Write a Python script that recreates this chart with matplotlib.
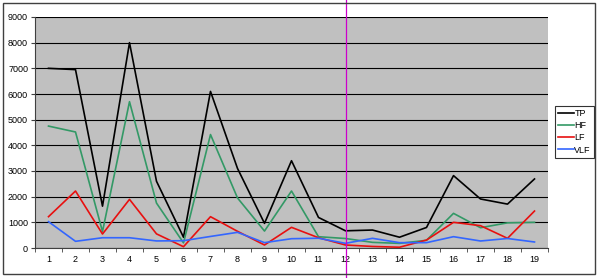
import matplotlib
matplotlib.use("Agg")
import matplotlib.pyplot as plt
from matplotlib.patches import Rectangle

categories = list(range(1, 20))
TP = [7000, 6950, 1630, 8000, 2600, 420, 6100, 3100, 960, 3400, 1190, 670, 700, 420, 800, 2820, 1910, 1710, 2690]
HF = [4750, 4520, 640, 5700, 1750, 200, 4420, 1950, 660, 2220, 440, 370, 220, 180, 300, 1350, 790, 980, 1000]
LF = [1220, 2220, 545, 1895, 550, 50, 1220, 650, 117, 805, 400, 117, 60, 30, 310, 1000, 870, 377, 1440]
VLF = [1025, 260, 400, 400, 275, 285, 450, 610, 208, 362, 380, 182, 377, 208, 208, 441, 273, 370, 234]
series = [("TP", TP, "#000000"), ("HF", HF, "#339966"), ("LF", LF, "#E81010"), ("VLF", VLF, "#3366FF")]
yticks = list(range(0, 9001, 1000))
marker_cat = 12

plt.rcParams['font.family'] = ['Liberation Sans', 'DejaVu Sans']
fig = plt.figure(figsize=(6.0, 2.78), dpi=100)
fig.patch.set_facecolor("white")
fig.patches.append(Rectangle((3/600, 4/278), 592/600, 271/278, transform=fig.transFigure,
                             fill=False, edgecolor="#404040", linewidth=1.0))

ax = fig.add_axes([35/600, 30/278, 513/600, 231/278])
ax.set_facecolor("#C0C0C0")
for name, vals, col in series:
    ax.plot(categories, vals, color=col, linewidth=1.2, label=name)

ax.set_xlim(0.5, 19.5)
ax.set_ylim(0, 9000)
ax.set_yticks(yticks)
ax.set_yticklabels([str(t) for t in yticks], fontsize=6.5)
ax.set_xticks(categories)
ax.set_xticklabels([str(c) for c in categories], fontsize=6.5)
ax.set_xticks([c + 0.5 for c in [0] + categories], minor=True)
ax.tick_params(axis='x', which='major', length=0, pad=5)
ax.tick_params(axis='x', which='minor', length=3, direction='out', color="#404040")
ax.tick_params(axis='y', length=3, direction='out', color="#404040", pad=2)
ax.grid(axis='y', color="#000000", linewidth=0.8)
ax.set_axisbelow(True)
for s in ['top', 'right']:
    ax.spines[s].set_visible(False)
for s in ['left', 'bottom']:
    ax.spines[s].set_color("#404040")
    ax.spines[s].set_linewidth(0.8)

ax.axvline(marker_cat, ymin=-30/231, ymax=1 + 17/231, color="#CC00CC", linewidth=0.9, clip_on=False, zorder=5)

leg = ax.legend(loc='upper left', bbox_to_anchor=(555/600, 172/278), bbox_transform=fig.transFigure,
                fontsize=6.5, frameon=True, fancybox=False, handlelength=1.7, handletextpad=0.1,
                borderpad=0.35, labelspacing=0.35, borderaxespad=0)
leg.get_frame().set_edgecolor("#000000")
leg.get_frame().set_linewidth(0.8)

fig.savefig("out.png", dpi=100, facecolor="white")
